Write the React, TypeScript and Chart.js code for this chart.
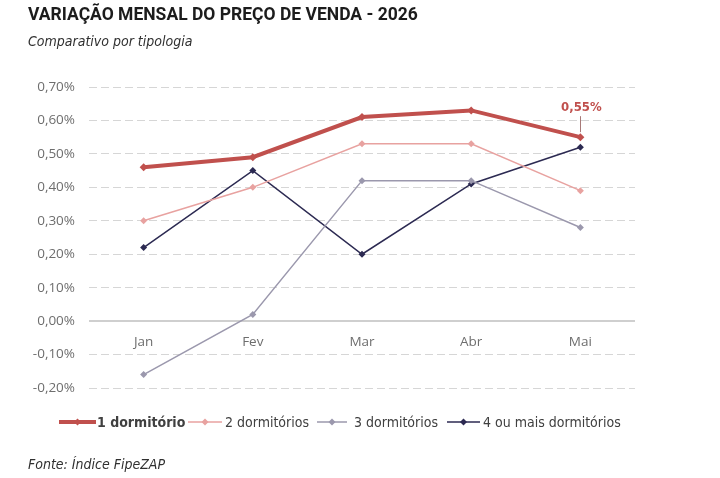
import React, { useEffect, useRef } from 'react';
import { Chart, registerables } from 'chart.js';

Chart.register(...registerables);

// Monthly change in sale price (%), by number of bedrooms
const months = ['Jan', 'Fev', 'Mar', 'Abr', 'Mai'];
const umDormitorio = [0.46, 0.49, 0.61, 0.63, 0.55];
const doisDormitorios = [0.3, 0.4, 0.53, 0.53, 0.39];
const tresDormitorios = [-0.16, 0.02, 0.42, 0.42, 0.28];
const quatroOuMais = [0.22, 0.45, 0.2, 0.41, 0.52];

const seriesNames = ['1 dormitório', '2 dormitórios', '3 dormitórios', '4 ou mais dormitórios'];
const seriesColors = ['#c0504d', '#e8a2a0', '#9b98ad', '#2c2a52'];
const seriesWidths = [4, 1.5, 1.5, 1.5];

const yMin = -0.2;
const yMax = 0.7;
const yStep = 0.1;

const title = 'VARIAÇÃO MENSAL DO PREÇO DE VENDA - 2026';
const subtitle = 'Comparativo por tipologia';
const source = 'Fonte: Índice FipeZAP';

// legend layout: where each swatch starts and how wide it is
const legendLeft = [59, 188, 317, 447];
const legendSwatch = [37, 34, 30, 33];

const fmtPct = (v: number) => {
  const n = Math.abs(v) < 1e-9 ? 0 : v;
  return n.toFixed(2).replace('.', ',') + '%';
};

const axisFont = '"Open Sans", "DejaVu Sans", sans-serif';
const condFont = '"DejaVu Sans Condensed", "DejaVu Sans", sans-serif';

const isZero = (c: any) => Math.abs(c.tick?.value ?? 1) < 1e-9;

// Callout for the last "1 dormitório" value, with a short leader line
const calloutPlugin = {
  id: 'lastValueCallout',
  afterDatasetsDraw(chart: any) {
    const meta = chart.getDatasetMeta(0);
    const idx = umDormitorio.length - 1;
    const pt = meta.data[idx];
    if (!pt) return;
    const ctx = chart.ctx;
    ctx.save();
    ctx.strokeStyle = '#a87a78';
    ctx.lineWidth = 1;
    ctx.beginPath();
    ctx.moveTo(Math.round(pt.x) + 0.5, pt.y - 5);
    ctx.lineTo(Math.round(pt.x) + 0.5, pt.y - 21);
    ctx.stroke();
    ctx.font = 'bold 13px ' + condFont;
    ctx.fillStyle = '#c0504d';
    ctx.textAlign = 'center';
    ctx.textBaseline = 'bottom';
    ctx.fillText(fmtPct(umDormitorio[idx]), pt.x + 1, pt.y - 23);
    ctx.restore();
  },
};

function LegendSymbol({ color, width, len }: { color: string; width: number; len: number }) {
  const mid = len / 2;
  return (
    <svg width={len} height="12" style={{ display: 'block' }}>
      <line x1="0" y1="6" x2={len} y2="6" stroke={color} strokeWidth={width} />
      <polygon points={`${mid},2.5 ${mid + 3.5},6 ${mid},9.5 ${mid - 3.5},6`} fill={color} />
    </svg>
  );
}

export default function App() {
  const canvasRef = useRef<HTMLCanvasElement | null>(null);

  useEffect(() => {
    if (!canvasRef.current) return;
    const values = [umDormitorio, doisDormitorios, tresDormitorios, quatroOuMais];
    const chart = new Chart(canvasRef.current, {
      type: 'line',
      data: {
        labels: months,
        datasets: values.map((data, i) => ({
          label: seriesNames[i],
          data,
          borderColor: seriesColors[i],
          backgroundColor: seriesColors[i],
          borderWidth: seriesWidths[i],
          pointStyle: 'rectRot',
          pointRadius: i === 0 ? 4 : 3.5,
          pointBorderWidth: 0,
          tension: 0,
        })),
      },
      options: {
        animation: false,
        responsive: false,
        maintainAspectRatio: false,
        layout: { padding: { left: 29, right: 85, top: 87, bottom: 90 } },
        plugins: {
          legend: { display: false },
          tooltip: { enabled: false },
          title: { display: false },
        },
        scales: {
          x: {
            type: 'category',
            offset: true,
            position: { y: 0 } as any,
            grid: { display: false, drawTicks: false },
            border: { display: false },
            ticks: {
              color: '#6e6e6e',
              font: { family: axisFont, size: 13.5 },
              padding: 13,
            },
          },
          y: {
            min: yMin,
            max: yMax,
            afterFit: (scale: any) => {
              scale.width = 60;
            },
            grid: {
              drawTicks: false,
              color: (c: any) => (isZero(c) ? '#cfcfcf' : '#d6d6d6'),
              lineWidth: (c: any) => (isZero(c) ? 2 : 1),
            },
            border: {
              display: false,
              dash: (c: any) => (isZero(c) ? [] : [8, 4]),
            },
            ticks: {
              stepSize: yStep,
              color: '#6e6e6e',
              font: { family: axisFont, size: 13.5 },
              padding: 14,
              callback: (v: any) => fmtPct(Number(v)),
            },
          },
        },
      },
      plugins: [calloutPlugin],
    });
    return () => chart.destroy();
  }, []);

  return (
    <div
      style={{
        position: 'fixed',
        left: 0,
        top: 0,
        width: 720,
        height: 478,
        background: '#ffffff',
        overflow: 'hidden',
      }}
    >
      <canvas
        ref={canvasRef}
        width={720}
        height={478}
        style={{ position: 'absolute', left: 0, top: 0, width: 720, height: 478 }}
      />
      <div
        style={{
          position: 'absolute',
          left: 28,
          top: 4,
          fontFamily: 'Roboto, sans-serif',
          fontWeight: 700,
          fontSize: 17.5,
          color: '#1c1c1c',
          whiteSpace: 'nowrap',
        }}
      >
        {title}
      </div>
      <div
        style={{
          position: 'absolute',
          left: 28,
          top: 33,
          fontFamily: condFont,
          fontStyle: 'italic',
          fontSize: 14,
          color: '#303030',
          whiteSpace: 'nowrap',
        }}
      >
        {subtitle}
      </div>
      {seriesNames.map((name, i) => (
        <div
          key={name}
          style={{
            position: 'absolute',
            left: legendLeft[i],
            top: 413,
            height: 18,
            display: 'flex',
            alignItems: 'center',
            fontFamily: condFont,
            fontSize: 14,
            fontWeight: i === 0 ? 700 : 400,
            color: '#404040',
            whiteSpace: 'nowrap',
          }}
        >
          <LegendSymbol color={seriesColors[i]} width={i === 0 ? 4 : 1.5} len={legendSwatch[i]} />
          <span style={{ marginLeft: i === 0 ? 1 : i === 2 ? 7 : 3 }}>{name}</span>
        </div>
      ))}
      <div
        style={{
          position: 'absolute',
          left: 28,
          top: 456,
          fontFamily: condFont,
          fontStyle: 'italic',
          fontSize: 14,
          color: '#303030',
          whiteSpace: 'nowrap',
        }}
      >
        {source}
      </div>
    </div>
  );
}
